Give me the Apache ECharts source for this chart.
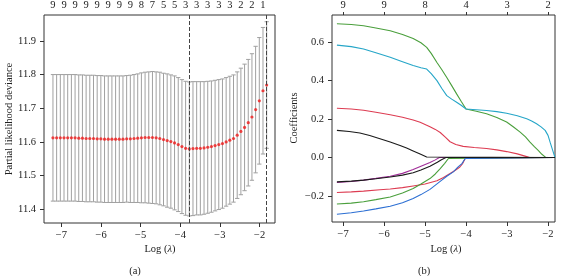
<!DOCTYPE html>
<html>
<head>
<meta charset="utf-8">
<script src="https://cdn.jsdelivr.net/npm/echarts@6/dist/echarts.min.js"></script>
<style>
  html, body { margin: 0; padding: 0; background: #fff; }
  #main { width: 564px; height: 276px; }
</style>
</head>
<body>
<div id="main"></div>
<script>
// ---- panel (a): cross-validation curve ----
const logLambda = [
  -7.214, -7.121, -7.028, -6.935, -6.842, -6.749, -6.656, -6.563, -6.470, -6.377,
  -6.284, -6.191, -6.098, -6.005, -5.912, -5.819, -5.726, -5.633, -5.540, -5.447,
  -5.354, -5.261, -5.168, -5.075, -4.982, -4.889, -4.796, -4.703, -4.610, -4.517,
  -4.424, -4.331, -4.238, -4.145, -4.052, -3.959, -3.866, -3.773, -3.680, -3.587,
  -3.494, -3.401, -3.308, -3.215, -3.122, -3.029, -2.936, -2.843, -2.750, -2.657,
  -2.564, -2.471, -2.378, -2.285, -2.192, -2.099, -2.006, -1.913, -1.820
];
const cvMean = [
  11.612, 11.612, 11.612, 11.612, 11.612, 11.612, 11.612, 11.611, 11.611, 11.610,
  11.610, 11.610, 11.609, 11.609, 11.608, 11.608, 11.608, 11.608, 11.608, 11.608,
  11.609, 11.609, 11.610, 11.611, 11.612, 11.613, 11.613, 11.613, 11.612, 11.610,
  11.607, 11.604, 11.601, 11.597, 11.592, 11.586, 11.581, 11.579, 11.580, 11.581,
  11.581, 11.582, 11.584, 11.586, 11.589, 11.592, 11.595, 11.600, 11.605, 11.610,
  11.620, 11.631, 11.643, 11.657, 11.674, 11.696, 11.722, 11.752, 11.769
];
const cvSE = [
  0.188, 0.188, 0.188, 0.188, 0.188, 0.188, 0.188, 0.188, 0.188, 0.188,
  0.188, 0.188, 0.188, 0.188, 0.188, 0.188, 0.188, 0.188, 0.188, 0.188,
  0.188, 0.189, 0.190, 0.191, 0.193, 0.194, 0.195, 0.196, 0.196, 0.197,
  0.197, 0.198, 0.198, 0.199, 0.199, 0.199, 0.199, 0.199, 0.199, 0.198,
  0.198, 0.197, 0.196, 0.195, 0.194, 0.193, 0.192, 0.191, 0.190, 0.189,
  0.188, 0.188, 0.188, 0.188, 0.188, 0.188, 0.188, 0.188, 0.188
];
// number of non-zero coefficients, printed on the top axis (every 3rd lambda)
const cvTopLabels = ['9','9','9','9','9','9','9','9','8','7','5','5','3','3','3','3','3','2','2','1'];
const idxMin = 37, idx1se = 58;

// ---- panel (b): coefficient paths ----
const coefVar1 = [[-7.15,0.141],[-6.85,0.135],[-6.59,0.127],[-6.35,0.114],[-6.10,0.098],[-5.85,0.081],
  [-5.61,0.063],[-5.45,0.049],[-5.29,0.034],[-5.12,0.018],[-4.96,0.003],[-4.93,0],[-1.83,0]];
const coefVar2 = [[-7.15,0.256],[-6.8,0.252],[-6.5,0.245],[-6.2,0.235],[-5.85,0.222],[-5.55,0.209],
  [-5.29,0.195],[-5.12,0.183],[-4.96,0.168],[-4.88,0.160],[-4.75,0.146],[-4.63,0.130],[-4.5,0.105],
  [-4.39,0.082],[-4.25,0.068],[-4.07,0.058],[-3.8,0.052],[-3.5,0.047],[-3.25,0.040],[-3.01,0.031],
  [-2.75,0.019],[-2.52,0.005],[-2.45,0],[-1.83,0]];
const coefVar3 = [[-7.15,0.694],[-6.8,0.690],[-6.5,0.683],[-6.2,0.672],[-5.85,0.657],[-5.55,0.638],
  [-5.29,0.617],[-5.1,0.595],[-4.96,0.571],[-4.85,0.540],[-4.71,0.493],[-4.59,0.455],[-4.47,0.415],
  [-4.35,0.373],[-4.23,0.330],[-4.12,0.292],[-4.0,0.252],[-3.75,0.240],[-3.5,0.227],[-3.25,0.208],
  [-3.01,0.184],[-2.85,0.160],[-2.68,0.132],[-2.55,0.107],[-2.44,0.080],[-2.34,0.058],[-2.24,0.037],
  [-2.15,0.017],[-2.05,0],[-1.83,0]];
const coefVar4 = [[-7.15,-0.294],[-6.8,-0.286],[-6.5,-0.277],[-6.2,-0.266],[-5.85,-0.252],[-5.55,-0.234],
  [-5.29,-0.212],[-5.1,-0.192],[-4.88,-0.165],[-4.6,-0.118],[-4.47,-0.097],[-4.31,-0.074],[-4.2,-0.050],
  [-4.10,-0.031],[-4.02,-0.005],[-4.0,0],[-1.83,0]];
const coefVar5 = [[-7.15,0.583],[-6.8,0.575],[-6.5,0.563],[-6.2,0.543],[-5.85,0.520],[-5.55,0.497],
  [-5.29,0.477],[-5.1,0.466],[-4.96,0.459],[-4.85,0.435],[-4.71,0.399],[-4.59,0.358],[-4.47,0.321],
  [-4.35,0.303],[-4.23,0.287],[-4.12,0.271],[-4.0,0.252],[-3.75,0.248],[-3.5,0.244],[-3.25,0.238],
  [-3.01,0.230],[-2.75,0.217],[-2.52,0.201],[-2.4,0.190],[-2.28,0.175],[-2.17,0.159],[-2.07,0.141],
  [-2.0,0.115],[-1.95,0.080],[-1.89,0.040],[-1.83,0]];
const coefVar6 = [[-7.15,-0.129],[-6.8,-0.124],[-6.5,-0.117],[-6.2,-0.108],[-5.85,-0.097],[-5.55,-0.082],
  [-5.29,-0.062],[-5.1,-0.045],[-4.88,-0.026],[-4.75,-0.012],[-4.65,0],[-1.83,0]];
const coefVar7 = [[-7.15,-0.126],[-6.8,-0.122],[-6.5,-0.117],[-6.2,-0.110],[-5.85,-0.101],[-5.55,-0.091],
  [-5.29,-0.079],[-5.1,-0.064],[-4.88,-0.045],[-4.7,-0.024],[-4.6,-0.011],[-4.49,0],[-1.83,0]];
const coefVar8 = [[-7.15,-0.181],[-6.8,-0.178],[-6.5,-0.174],[-6.1,-0.167],[-5.85,-0.163],[-5.55,-0.156],
  [-5.29,-0.147],[-5.0,-0.137],[-4.71,-0.120],[-4.55,-0.103],[-4.39,-0.083],[-4.27,-0.067],[-4.15,-0.049],
  [-4.08,-0.030],[-4.02,-0.005],[-4.0,0],[-1.83,0]];
const coefVar9 = [[-7.15,-0.241],[-6.8,-0.236],[-6.5,-0.229],[-6.2,-0.218],[-5.85,-0.204],[-5.55,-0.184],
  [-5.29,-0.160],[-5.1,-0.137],[-4.88,-0.109],[-4.75,-0.085],[-4.63,-0.057],[-4.52,-0.030],[-4.43,-0.005],
  [-4.41,0],[-1.83,0]];
const coefTopPos = [-7, -6, -5, -4, -3, -2];
const coefTopLabels = ['9', '9', '8', '4', '3', '2'];

const xTicks = [-7, -6, -5, -4, -3, -2];
const cvYTicks = [11.4, 11.5, 11.6, 11.7, 11.8, 11.9];
const coefYTicks = [-0.2, 0, 0.2, 0.4, 0.6];

const FONT = 'Liberation Serif, Times New Roman, serif';
const TXT = '#222';
const minus = v => (v < 0 ? '\u2212' : '') + Math.abs(v);

const cvTopPos = cvTopLabels.map((t, k) => logLambda[k * 3]);
const pick = (pos, labels) => v => {
  for (let i = 0; i < pos.length; i++) if (Math.abs(pos[i] - v) < 1e-6) return labels[i];
  return '';
};

const errData = logLambda.map((x, i) => [x, cvMean[i] - cvSE[i], cvMean[i] + cvSE[i]]);
const dotData = logLambda.map((x, i) => [x, cvMean[i]]);
const barW = (logLambda[logLambda.length - 1] - logLambda[0]) * 0.01;

const paths = [
  { n: '3', d: coefVar3, c: '#4a9f3c' },
  { n: '5', d: coefVar5, c: '#26a6c8' },
  { n: '2', d: coefVar2, c: '#dd3c52' },
  { n: '6', d: coefVar6, c: '#a02d98' },
  { n: '8', d: coefVar8, c: '#dd3c52' },
  { n: '9', d: coefVar9, c: '#4a9f3c' },
  { n: '4', d: coefVar4, c: '#2c6fd3' },
  { n: '7', d: coefVar7, c: '#1a1a1a' },
  { n: '1', d: coefVar1, c: '#1a1a1a' }
];

const axLabel = { fontFamily: FONT, fontSize: 10.5, color: TXT };
const noLine = { show: false, onZero: false };

const chart = echarts.init(document.getElementById('main'));
chart.setOption({
  animation: false,
  grid: [
    { left: 44, top: 15, width: 231, height: 208, show: true, borderColor: '#333', borderWidth: 1 },
    { left: 332, top: 14, width: 223, height: 208, show: true, borderColor: '#333', borderWidth: 1 }
  ],
  xAxis: [
    { type: 'value', gridIndex: 0, min: -7.44, max: -1.61, position: 'bottom',
      axisLine: noLine, splitLine: { show: false },
      axisTick: { customValues: xTicks, length: 4, lineStyle: { color: '#333' } },
      axisLabel: Object.assign({ customValues: xTicks, margin: 7, formatter: minus }, axLabel) },
    { type: 'value', gridIndex: 0, min: -7.44, max: -1.61, position: 'top',
      axisLine: noLine, splitLine: { show: false }, axisTick: { show: false },
      axisLabel: Object.assign({ customValues: cvTopPos, margin: 4, formatter: pick(cvTopPos, cvTopLabels) }, axLabel) },
    { type: 'value', gridIndex: 1, min: -7.27, max: -1.83, position: 'bottom',
      axisLine: noLine, splitLine: { show: false },
      axisTick: { customValues: xTicks, length: 4, lineStyle: { color: '#333' } },
      axisLabel: Object.assign({ customValues: xTicks, margin: 7, formatter: minus }, axLabel) },
    { type: 'value', gridIndex: 1, min: -7.27, max: -1.83, position: 'top',
      axisLine: noLine, splitLine: { show: false },
      axisTick: { customValues: coefTopPos, length: 3, lineStyle: { color: '#333' } },
      axisLabel: Object.assign({ customValues: coefTopPos, margin: 4, formatter: pick(coefTopPos, coefTopLabels) }, axLabel) }
  ],
  yAxis: [
    { type: 'value', gridIndex: 0, min: 11.359, max: 11.977,
      axisLine: noLine, splitLine: { show: false },
      axisTick: { customValues: cvYTicks, length: 4, lineStyle: { color: '#333' } },
      axisLabel: Object.assign({ customValues: cvYTicks, margin: 8, formatter: v => v.toFixed(1) }, axLabel) },
    { type: 'value', gridIndex: 1, min: -0.334, max: 0.739,
      axisLine: noLine, splitLine: { show: false },
      axisTick: { customValues: coefYTicks, length: 4, lineStyle: { color: '#333' } },
      axisLabel: Object.assign({ customValues: coefYTicks, margin: 8,
        formatter: v => (v < 0 ? '\u2212' : '') + Math.abs(v).toFixed(1) }, axLabel) }
  ],
  series: [
    {
      type: 'custom', xAxisIndex: 0, yAxisIndex: 0, data: errData, z: 2,
      encode: { x: 0, y: [1, 2] },
      renderItem: function (params, api) {
        const x = api.value(0), lo = api.value(1), hi = api.value(2);
        const t = api.coord([x, hi]), b = api.coord([x, lo]);
        const l = api.coord([x - barW, hi])[0], r = api.coord([x + barW, hi])[0];
        const st = { stroke: '#a0a0a0', lineWidth: 1 };
        return { type: 'group', children: [
          { type: 'line', shape: { x1: t[0], y1: t[1], x2: b[0], y2: b[1] }, style: st },
          { type: 'line', shape: { x1: l, y1: t[1], x2: r, y2: t[1] }, style: st },
          { type: 'line', shape: { x1: l, y1: b[1], x2: r, y2: b[1] }, style: st }
        ] };
      }
    },
    {
      type: 'scatter', xAxisIndex: 0, yAxisIndex: 0, data: dotData, z: 4,
      symbol: 'circle', symbolSize: 3.2, itemStyle: { color: '#f01a1a' },
      markLine: {
        silent: true, symbol: 'none', label: { show: false },
        lineStyle: { color: '#444', width: 1, type: [4, 2] },
        data: [{ xAxis: logLambda[idxMin] }, { xAxis: logLambda[idx1se] }]
      }
    }
  ].concat(paths.map((p, k) => ({
    type: 'line', xAxisIndex: 2, yAxisIndex: 1, z: 3 + k * 0.01,
    showSymbol: false, symbol: 'none',
    lineStyle: { color: p.c, width: 1.1 }, itemStyle: { color: p.c },
    data: p.d.map((pt, i) => i === 0 ? {
      value: pt, label: { show: true, position: 'left', distance: 2, formatter: p.n,
        fontSize: 4, color: '#777', fontFamily: FONT } } : pt)
  }))),
  graphic: [
    { type: 'text', x: 9.5, y: 119, rotation: Math.PI / 2,
      style: { text: 'Partial likelihood deviance', fontFamily: FONT, fontSize: 10.5, fill: TXT, align: 'center', verticalAlign: 'middle' } },
    { type: 'text', x: 294, y: 118, rotation: Math.PI / 2,
      style: { text: 'Coefficients', fontFamily: FONT, fontSize: 10.5, fill: TXT, align: 'center', verticalAlign: 'middle' } },
    { type: 'text', x: 160, y: 249,
      style: { text: 'Log ({i|\u03bb})', rich: { i: { fontStyle: 'italic', fontFamily: FONT, fontSize: 10.5, fill: TXT } },
        fontFamily: FONT, fontSize: 10.5, fill: TXT, align: 'center', verticalAlign: 'middle' } },
    { type: 'text', x: 446, y: 249,
      style: { text: 'Log ({i|\u03bb})', rich: { i: { fontStyle: 'italic', fontFamily: FONT, fontSize: 10.5, fill: TXT } },
        fontFamily: FONT, fontSize: 10.5, fill: TXT, align: 'center', verticalAlign: 'middle' } },
    { type: 'text', x: 135, y: 271,
      style: { text: '(a)', fontFamily: FONT, fontSize: 10.5, fill: TXT, align: 'center', verticalAlign: 'middle' } },
    { type: 'text', x: 424, y: 271,
      style: { text: '(b)', fontFamily: FONT, fontSize: 10.5, fill: TXT, align: 'center', verticalAlign: 'middle' } }
  ]
});
</script>
</body>
</html>
